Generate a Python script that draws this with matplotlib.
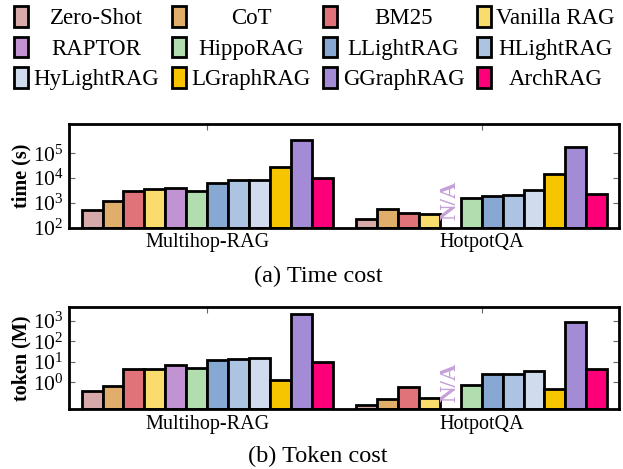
#!/usr/bin/env python
# time / token cost of RAG methods, two log-scale bar panels
import numpy as np
import matplotlib
matplotlib.use('Agg')
import matplotlib.pyplot as plt
import matplotlib.transforms as mtransforms

methods = ['Zero-Shot', 'CoT', 'BM25', 'Vanilla RAG', 'RAPTOR', 'HippoRAG',
           'LLightRAG', 'HLightRAG', 'HyLightRAG', 'LGraphRAG', 'GGraphRAG', 'ArchRAG']
colors = ['#d8a9a9', '#e1ad6b', '#e0737a', '#f9dc6b', '#c193d3', '#b2deaf',
          '#86a8d3', '#adc3e2', '#d0dcee', '#f7c500', '#a48bd6', '#fd0079']
datasets = ['Multihop-RAG', 'HotpotQA']

# None = N/A (RAPTOR on HotpotQA)
time_multihop = [520, 1150, 3100, 3700, 4000, 2900, 6400, 8300, 8300, 29000, 340000, 10500]
time_hotpot = [225, 550, 380, 345, None, 1520, 1900, 2150, 3300, 14800, 170000, 2300]
token_multihop = [0.39, 0.69, 4.7, 4.6, 6.8, 5.2, 12, 13.4, 15.6, 1.3, 2150, 10.3]
token_hotpot = [0.079, 0.148, 0.59, 0.17, None, 0.78, 2.6, 2.6, 3.7, 0.49, 930, 4.3]

time_ticks = [1e2, 1e3, 1e4, 1e5]
token_ticks = [1e0, 1e1, 1e2, 1e3]

plt.rcParams['font.family'] = 'serif'
plt.rcParams['font.serif'] = ['Liberation Serif', 'DejaVu Serif']
plt.rcParams['mathtext.fontset'] = 'stix'

GAP = 13.12


def drawPanel(ax, groups, ylim, yticks, ylabel):
    ax.set_yscale('log')
    handles = None
    for k, vals in enumerate(groups):
        for i, v in enumerate(vals):
            x = k * GAP + i
            if v is None:
                trans = mtransforms.blended_transform_factory(ax.transData, ax.transAxes)
                ax.text(x, 0.07, 'N/A', transform=trans, rotation=90, ha='center',
                        va='bottom', fontsize=16.5, fontweight='bold', color='#c6a0d8')
        xs = [k * GAP + i for i, v in enumerate(vals) if v is not None]
        hs = [v - ylim[0] for v in vals if v is not None]
        cs = [colors[i] for i, v in enumerate(vals) if v is not None]
        b = ax.bar(xs, hs, bottom=ylim[0], width=1.0, color=cs,
                   edgecolor='black', linewidth=2, zorder=2)
        if k == 0:
            handles = list(b.patches)

    ax.set_ylim(ylim)
    ax.set_xlim(-1.09, 11 + GAP + 1.08)
    ax.set_yticks(yticks)
    ax.set_xticks([5.5, GAP + 5.5])
    ax.set_xticklabels(datasets)
    ax.tick_params(axis='x', direction='in', top=True, bottom=True, length=4,
                   labelsize=14.5, pad=4, color='0.4')
    ax.tick_params(axis='y', which='major', direction='in', left=True, right=True,
                   length=4, width=0.8, labelsize=15.5, pad=4, color='0.4')
    ax.tick_params(axis='y', which='minor', direction='in', left=True, right=True,
                   length=2, width=0.6, color='0.4')
    for s in ax.spines.values():
        s.set_linewidth(2)
        s.set_zorder(3)
    ax.set_ylabel(ylabel, fontweight='bold', fontsize=14.5)
    ax.yaxis.set_label_coords(-0.068, 0.5)
    return handles


fig = plt.figure(figsize=(6.23, 4.69), dpi=100)
ax1 = fig.add_axes([0.1112, 0.5145, 0.883, 0.2211])
ax2 = fig.add_axes([0.1112, 0.1279, 0.883, 0.2181])

handles = drawPanel(ax1, [time_multihop, time_hotpot], (1e2, 1.5e6), time_ticks, 'time (s)')
drawPanel(ax2, [token_multihop, token_hotpot], (0.05, 5000), token_ticks, 'token (M)')

fig.text(318 / 623, 1 - 276.7 / 469, '(a) Time cost', ha='center', va='center', fontsize=17.5)
fig.text(318 / 623, 1 - 456 / 469, '(b) Token cost', ha='center', va='center', fontsize=17.5)

# legend is filled column-major, reorder so it reads row by row
order = [r * 4 + c for c in range(4) for r in range(3)]
leg = fig.legend([handles[i] for i in order], [methods[i] for i in order], ncol=4,
                 loc='upper left', bbox_to_anchor=(14 / 623, 1 - 6 / 469),
                 frameon=False, fontsize=16.5, handlelength=0.6, handleheight=1.0,
                 handletextpad=0.25, columnspacing=0.55, labelspacing=0.33,
                 borderpad=0, borderaxespad=0)

# center the labels inside each legend column
fig.canvas.draw()
renderer = fig.canvas.get_renderer()
for col in leg._legend_handle_box.get_children():
    items = col.get_children()
    widths = [it.get_children()[1]._text.get_window_extent(renderer).width for it in items]
    wmax = max(widths)
    for it, w in zip(items, widths):
        it.sep += (wmax - w) / 2 * 72.0 / fig.dpi

plt.savefig('out.png', dpi=100)
